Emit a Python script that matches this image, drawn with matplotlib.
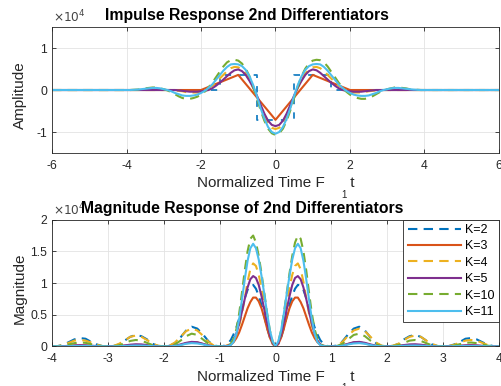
import numpy as np
import matplotlib
matplotlib.use('Agg')
import matplotlib.pyplot as plt
from matplotlib.ticker import FuncFormatter

plt.rcParams['font.family'] = ['Liberation Sans', 'DejaVu Sans']
plt.rcParams['axes.unicode_minus'] = False

# legend entries and MATLAB default line colours
labels = ['K=2', 'K=3', 'K=4', 'K=5', 'K=10', 'K=11']
colors = ['#0072BD', '#D95319', '#EDB120', '#7E2F8E', '#77AC30', '#4DBEEE']
dashed = [True, False, True, False, True, False]

SCALE = 1e4  # axes show x10^4

# --- impulse responses (units of 1e4) ---
# K=2 (stairs) and K=3 (linear) are sampled at integer times
t_int = np.arange(-6, 7)
h_k2 = [0, 0, 0, 0, 0, 0.36, -0.71, 0.36, 0, 0, 0, 0, 0]
h_k3 = [0, 0, 0, 0, 0, 0.36, -0.71, 0.36, 0, 0, 0, 0, 0]

# smooth ones: even in t, read for t >= 0 and mirrored
t_half = [0.0, 0.1, 0.2, 0.3, 0.4, 0.5, 0.6, 0.7, 0.8, 0.9, 1.0,
          1.1, 1.2, 1.3, 1.4, 1.5, 1.6, 1.7, 1.8, 1.9, 2.0,
          2.1, 2.2, 2.3, 2.4, 2.5, 2.6, 2.7, 2.8, 2.9, 3.0,
          3.1, 3.2, 3.3, 3.4, 3.5, 3.6, 3.7, 3.8, 3.9, 4.0, 6.0]
h_k4 = [-0.93, -0.90, -0.80, -0.63, -0.41, -0.17, 0.05, 0.24, 0.39, 0.49, 0.54,
        0.55, 0.52, 0.45, 0.36, 0.27, 0.18, 0.10, 0.04, -0.01, -0.04,
        -0.06, -0.06, -0.06, -0.05, -0.03, -0.02, -0.01, 0, 0, 0,
        0, 0, 0, 0, 0, 0, 0, 0, 0, 0, 0]
h_k5 = [-0.86, -0.83, -0.73, -0.56, -0.35, -0.13, 0.06, 0.22, 0.36, 0.45, 0.49,
        0.47, 0.41, 0.33, 0.25, 0.17, 0.10, 0.04, 0.00, -0.02, -0.03,
        -0.04, -0.04, -0.04, -0.03, -0.02, -0.01, 0, 0, 0, 0,
        0, 0, 0, 0, 0, 0, 0, 0, 0, 0, 0]
h_k10 = [-1.07, -1.03, -0.92, -0.73, -0.48, -0.19, 0.09, 0.33, 0.51, 0.63, 0.70,
         0.72, 0.71, 0.66, 0.56, 0.43, 0.30, 0.17, 0.06, -0.04, -0.11,
         -0.16, -0.19, -0.21, -0.21, -0.19, -0.15, -0.10, -0.05, -0.01, 0.02,
         0.04, 0.06, 0.06, 0.05, 0.04, 0.02, 0.01, 0.005, 0, 0, 0]
h_k11 = [-1.04, -1.00, -0.88, -0.68, -0.43, -0.14, 0.12, 0.33, 0.48, 0.57, 0.61,
         0.62, 0.61, 0.55, 0.46, 0.35, 0.24, 0.13, 0.05, -0.02, -0.07,
         -0.11, -0.13, -0.14, -0.14, -0.13, -0.10, -0.07, -0.03, 0.00, 0.02,
         0.04, 0.05, 0.05, 0.04, 0.03, 0.02, 0.01, 0.005, 0, 0, 0]

# --- magnitude responses (units of 1e4), even in f ---
f_half = [0.0, 0.05, 0.1, 0.15, 0.2, 0.25, 0.3, 0.35, 0.4, 0.45, 0.5,
          0.55, 0.6, 0.65, 0.7, 0.75, 0.8, 0.85, 0.9, 0.95, 1.0,
          1.1, 1.2, 1.3, 1.4, 1.5, 1.6, 1.7, 1.8, 1.9, 2.0,
          2.1, 2.2, 2.3, 2.4, 2.5, 2.6, 2.7, 2.8, 2.9, 3.0,
          3.1, 3.2, 3.3, 3.4, 3.5, 3.6, 3.7, 3.8, 3.9, 4.0]
m_k2 = [0, 0.04, 0.14, 0.29, 0.47, 0.65, 0.80, 0.91, 0.97, 0.96, 0.89,
        0.76, 0.60, 0.44, 0.30, 0.19, 0.10, 0.045, 0.015, 0.002, 0,
        0.012, 0.08, 0.19, 0.28, 0.31, 0.25, 0.14, 0.05, 0.007, 0,
        0.006, 0.04, 0.11, 0.16, 0.18, 0.15, 0.09, 0.03, 0.005, 0,
        0.004, 0.03, 0.07, 0.12, 0.13, 0.11, 0.066, 0.024, 0.003, 0]
m_k3 = [0, 0.035, 0.135, 0.28, 0.45, 0.60, 0.71, 0.77, 0.77, 0.70, 0.60,
        0.47, 0.34, 0.22, 0.13, 0.065, 0.027, 0.009, 0.002, 0, 0,
        0.001, 0.012, 0.037, 0.061, 0.065, 0.047, 0.022, 0.005, 0, 0,
        0, 0.004, 0.012, 0.021, 0.023, 0.018, 0.009, 0.002, 0, 0,
        0, 0.002, 0.006, 0.010, 0.012, 0.009, 0.005, 0.001, 0, 0]
m_k4 = [0, 0.06, 0.20, 0.42, 0.67, 0.92, 1.13, 1.27, 1.31, 1.22, 1.02,
        0.76, 0.52, 0.32, 0.18, 0.09, 0.04, 0.02, 0.005, 0.001, 0,
        0.01, 0.07, 0.17, 0.25, 0.28, 0.24, 0.15, 0.06, 0.01, 0,
        0.01, 0.04, 0.10, 0.15, 0.17, 0.15, 0.09, 0.04, 0.005, 0,
        0.005, 0.025, 0.06, 0.09, 0.10, 0.09, 0.055, 0.02, 0.003, 0]
m_k5 = [0, 0.05, 0.18, 0.37, 0.58, 0.79, 0.97, 1.08, 1.11, 1.06, 0.93,
        0.75, 0.55, 0.36, 0.20, 0.09, 0.03, 0.01, 0.002, 0, 0,
        0.002, 0.015, 0.04, 0.065, 0.07, 0.055, 0.03, 0.01, 0.001, 0,
        0.001, 0.008, 0.02, 0.03, 0.032, 0.026, 0.014, 0.004, 0, 0,
        0, 0.004, 0.01, 0.016, 0.018, 0.015, 0.008, 0.002, 0, 0]
m_k10 = [0, 0.07, 0.25, 0.52, 0.84, 1.15, 1.43, 1.64, 1.75, 1.70, 1.50,
         1.20, 0.85, 0.52, 0.27, 0.12, 0.04, 0.01, 0, 0, 0,
         0.005, 0.04, 0.11, 0.18, 0.20, 0.16, 0.09, 0.03, 0.003, 0,
         0.003, 0.02, 0.055, 0.09, 0.10, 0.085, 0.05, 0.015, 0.002, 0,
         0.002, 0.012, 0.035, 0.055, 0.06, 0.05, 0.03, 0.01, 0.001, 0]
m_k11 = [0, 0.08, 0.25, 0.52, 0.82, 1.11, 1.37, 1.55, 1.62, 1.55, 1.35,
         1.06, 0.74, 0.43, 0.20, 0.07, 0.02, 0.005, 0, 0, 0,
         0.001, 0.01, 0.03, 0.045, 0.05, 0.04, 0.02, 0.006, 0, 0,
         0, 0.003, 0.008, 0.012, 0.013, 0.01, 0.005, 0.001, 0, 0,
         0, 0.001, 0.003, 0.005, 0.005, 0.004, 0.002, 0, 0, 0]


def mirror(x, y):
    x = np.asarray(x, float)
    y = np.asarray(y, float)
    return np.concatenate([-x[::-1], x[1:]]), np.concatenate([y[::-1], y[1:]])


AX_COLOR = '#262626'
DASH = (0, (4.5, 3))


def style_axes(ax, xticks, yticks, xlim, ylim):
    ax.set_xlim(*xlim)
    ax.set_ylim(*ylim)
    ax.set_xticks(xticks)
    ax.set_yticks(yticks)
    ax.grid(True, color='#e3e3e3', linewidth=0.6)
    ax.set_axisbelow(True)
    ax.tick_params(direction='in', length=3, width=0.6, colors=AX_COLOR,
                   labelsize=8.7, top=True, right=True)
    ax.tick_params(axis='x', pad=5)
    for s in ax.spines.values():
        s.set_color(AX_COLOR)
        s.set_linewidth(0.6)
    ax.yaxis.set_major_formatter(FuncFormatter(lambda v, p: f'{v / SCALE:g}'))
    ax.text(0.002, 1.015, r'$\times10^{4}$', transform=ax.transAxes,
            fontsize=8.7, color='#444444', ha='left', va='bottom')


def xlabel_f1t(ax):
    # MATLAB renders F_1 t with the subscript dropped below the baseline
    ax.set_xlabel('Normalized Time F      t', fontsize=11, color=AX_COLOR)
    ax.xaxis.set_label_coords(0.5, -0.185)
    ax.text(0.654, -0.29, '1', transform=ax.transAxes, fontsize=7,
            color=AX_COLOR, ha='center', va='top', clip_on=False)


fig = plt.figure(figsize=(5.01, 3.86), dpi=100)
ax1 = fig.add_axes([0.1038, 0.6036, 0.8922, 0.3264])
ax2 = fig.add_axes([0.1038, 0.1028, 0.8922, 0.328])

# top: impulse responses
smooth_h = [h_k4, h_k5, h_k10, h_k11]
ax1.step(t_int, np.array(h_k2) * SCALE, where='mid', color=colors[0],
         lw=1.3, ls=(0, (3.5, 4.5)), alpha=0.9)
ax1.plot(t_int, np.array(h_k3) * SCALE, color=colors[1], lw=1.5)
for h, c, d in zip(smooth_h, colors[2:], dashed[2:]):
    tt, hh = mirror(t_half, h)
    ax1.plot(tt, hh * SCALE, color=c, lw=1.5, ls=DASH if d else '-')
style_axes(ax1, range(-6, 7, 2), [-1e4, 0, 1e4], (-6, 6), (-1.5e4, 1.5e4))
ax1.set_title('Impulse Response 2nd Differentiators', fontsize=11.3,
              fontweight='bold', pad=5)
ax1.title.set_x(0.436)
ax1.set_ylabel('Amplitude', fontsize=11, color=AX_COLOR)
ax1.yaxis.set_label_coords(-0.057, 0.46)
xlabel_f1t(ax1)

# bottom: magnitude responses
mags = [m_k2, m_k3, m_k4, m_k5, m_k10, m_k11]
for m, c, d, lab in zip(mags, colors, dashed, labels):
    ff, mm = mirror(f_half, m)
    ax2.plot(ff, mm * SCALE, color=c, lw=1.5, ls=DASH if d else '-', label=lab)
style_axes(ax2, range(-4, 5), [0, 0.5e4, 1e4, 1.5e4, 2e4], (-4, 4), (0, 2e4))
ax2.set_title('Magnitude Response of 2nd Differentiators', fontsize=11.3,
              fontweight='bold', pad=5)
ax2.title.set_x(0.425)
ax2.set_ylabel('Magnitude', fontsize=11, color=AX_COLOR)
ax2.yaxis.set_label_coords(-0.057, 0.46)
xlabel_f1t(ax2)

leg = ax2.legend(loc='upper right', fontsize=9, handlelength=4.3,
                 handletextpad=0.3, labelspacing=0.35, borderaxespad=0,
                 borderpad=0.35, fancybox=False, framealpha=1)
leg.get_frame().set_edgecolor(AX_COLOR)
leg.get_frame().set_linewidth(0.6)

fig.savefig('out.png', dpi=100)
